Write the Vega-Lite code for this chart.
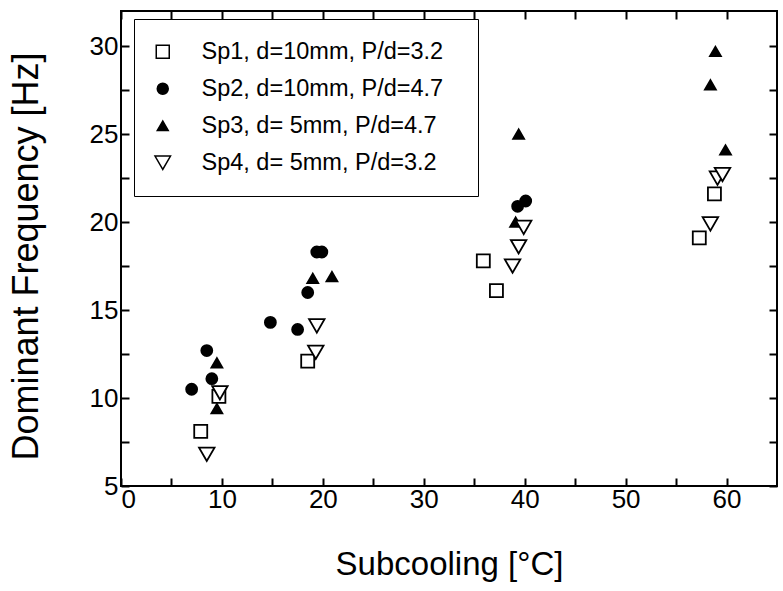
{
  "$schema": "https://vega.github.io/schema/vega-lite/v6.json",
  "width": 656,
  "height": 475,
  "autosize": {"type": "none"},
  "padding": {"left": 121, "top": 11, "right": 6, "bottom": 105},
  "background": "white",
  "config": {
    "view": {"stroke": "black", "strokeWidth": 2},
    "font": "Liberation Sans",
    "axis": {
      "grid": false,
      "domain": false,
      "ticks": true,
      "tickColor": "black",
      "tickWidth": 2,
      "tickSize": -8,
      "labelColor": "black",
      "labelFont": "Liberation Sans",
      "labelFontSize": 26,
      "titleFont": "Liberation Sans",
      "titleFontWeight": "normal",
      "titleColor": "black"
    }
  },
  "data": {
    "values": [
      {"series": "Sp1, d=10mm, P/d=3.2", "subcooling": 7.9, "frequency": 8.1},
      {"series": "Sp1, d=10mm, P/d=3.2", "subcooling": 9.7, "frequency": 10.1},
      {"series": "Sp1, d=10mm, P/d=3.2", "subcooling": 18.5, "frequency": 12.1},
      {"series": "Sp1, d=10mm, P/d=3.2", "subcooling": 35.9, "frequency": 17.8},
      {"series": "Sp1, d=10mm, P/d=3.2", "subcooling": 37.2, "frequency": 16.1},
      {"series": "Sp1, d=10mm, P/d=3.2", "subcooling": 57.3, "frequency": 19.1},
      {"series": "Sp1, d=10mm, P/d=3.2", "subcooling": 58.8, "frequency": 21.6},
      {"series": "Sp2, d=10mm, P/d=4.7", "subcooling": 7.0, "frequency": 10.5},
      {"series": "Sp2, d=10mm, P/d=4.7", "subcooling": 8.5, "frequency": 12.7},
      {"series": "Sp2, d=10mm, P/d=4.7", "subcooling": 9.0, "frequency": 11.1},
      {"series": "Sp2, d=10mm, P/d=4.7", "subcooling": 14.8, "frequency": 14.3},
      {"series": "Sp2, d=10mm, P/d=4.7", "subcooling": 17.5, "frequency": 13.9},
      {"series": "Sp2, d=10mm, P/d=4.7", "subcooling": 18.5, "frequency": 16.0},
      {"series": "Sp2, d=10mm, P/d=4.7", "subcooling": 19.4, "frequency": 18.3},
      {"series": "Sp2, d=10mm, P/d=4.7", "subcooling": 19.9, "frequency": 18.3},
      {"series": "Sp2, d=10mm, P/d=4.7", "subcooling": 39.3, "frequency": 20.9},
      {"series": "Sp2, d=10mm, P/d=4.7", "subcooling": 40.1, "frequency": 21.2},
      {"series": "Sp3, d= 5mm, P/d=4.7", "subcooling": 9.5, "frequency": 12.0},
      {"series": "Sp3, d= 5mm, P/d=4.7", "subcooling": 9.5, "frequency": 9.4},
      {"series": "Sp3, d= 5mm, P/d=4.7", "subcooling": 19.0, "frequency": 16.8},
      {"series": "Sp3, d= 5mm, P/d=4.7", "subcooling": 20.9, "frequency": 16.9},
      {"series": "Sp3, d= 5mm, P/d=4.7", "subcooling": 39.1, "frequency": 20.0},
      {"series": "Sp3, d= 5mm, P/d=4.7", "subcooling": 39.4, "frequency": 25.0},
      {"series": "Sp3, d= 5mm, P/d=4.7", "subcooling": 58.4, "frequency": 27.8},
      {"series": "Sp3, d= 5mm, P/d=4.7", "subcooling": 58.9, "frequency": 29.7},
      {"series": "Sp3, d= 5mm, P/d=4.7", "subcooling": 59.9, "frequency": 24.1},
      {"series": "Sp4, d= 5mm, P/d=3.2", "subcooling": 8.5, "frequency": 6.8},
      {"series": "Sp4, d= 5mm, P/d=3.2", "subcooling": 9.8, "frequency": 10.3},
      {"series": "Sp4, d= 5mm, P/d=3.2", "subcooling": 19.3, "frequency": 12.6},
      {"series": "Sp4, d= 5mm, P/d=3.2", "subcooling": 19.4, "frequency": 14.1},
      {"series": "Sp4, d= 5mm, P/d=3.2", "subcooling": 38.8, "frequency": 17.5},
      {"series": "Sp4, d= 5mm, P/d=3.2", "subcooling": 39.4, "frequency": 18.6},
      {"series": "Sp4, d= 5mm, P/d=3.2", "subcooling": 39.9, "frequency": 19.7},
      {"series": "Sp4, d= 5mm, P/d=3.2", "subcooling": 58.4, "frequency": 19.9},
      {"series": "Sp4, d= 5mm, P/d=3.2", "subcooling": 59.1, "frequency": 22.5},
      {"series": "Sp4, d= 5mm, P/d=3.2", "subcooling": 59.6, "frequency": 22.7}
    ]
  },
  "layer": [
    {
      "mark": {"type": "point", "filled": true, "stroke": "black", "strokeWidth": 1.8, "opacity": 1},
      "encoding": {
        "x": {
          "field": "subcooling", "type": "quantitative",
          "scale": {"domain": [0, 65], "nice": false, "zero": false},
          "axis": {
            "orient": "bottom",
            "values": [0, 5, 10, 15, 20, 25, 30, 35, 40, 45, 50, 55, 60],
            "labelExpr": "datum.value % 10 === 0 ? datum.label : ''",
            "labelPadding": 8,
            "title": "Subcooling [°C]",
            "titleFontSize": 33,
            "titleY": 88,
            "titleBaseline": "alphabetic",
            "encode": {"ticks": {"update": {"y2": {"value": {"expr": "datum.value % 10 === 0 ? -10 : -6"}}}}}
          }
        },
        "y": {
          "field": "frequency", "type": "quantitative",
          "scale": {"domain": [5, 32], "nice": false, "zero": false},
          "axis": {
            "orient": "left",
            "values": [5, 7.5, 10, 12.5, 15, 17.5, 20, 22.5, 25, 27.5, 30],
            "labelExpr": "datum.value % 5 === 0 ? datum.label : ''",
            "labelPadding": 11,
            "title": "Dominant Frequency [Hz]",
            "titleFontSize": 36,
            "titleX": -84,
            "titleY": 245,
            "titleBaseline": "alphabetic",
            "encode": {"ticks": {"update": {"x2": {"value": {"expr": "datum.value % 5 === 0 ? 10 : 6"}}}}}
          }
        },
        "shape": {
          "field": "series", "type": "nominal",
          "scale": {"domain": ["Sp1, d=10mm, P/d=3.2", "Sp2, d=10mm, P/d=4.7", "Sp3, d= 5mm, P/d=4.7", "Sp4, d= 5mm, P/d=3.2"], "range": ["square", "circle", "triangle-up", "triangle-down"]},
          "legend": {"title": null, "orient": "none", "legendX": 13, "legendY": 8, "padding": 21, "strokeColor": "black", "fillColor": "white", "labelFont": "Liberation Sans", "labelFontSize": 23.5, "labelColor": "black", "labelLimit": 500, "labelOffset": 27, "symbolOffset": -4, "rowPadding": 12, "labelExpr": "datum.label + '\u00a0\u00a0\u200b'", "encode": {"symbols": {"update": {"stroke": {"value": "black"}, "strokeWidth": {"value": 1.8}}}}}
        },
        "fill": {
          "field": "series", "type": "nominal",
          "scale": {"domain": ["Sp1, d=10mm, P/d=3.2", "Sp2, d=10mm, P/d=4.7", "Sp3, d= 5mm, P/d=4.7", "Sp4, d= 5mm, P/d=3.2"], "range": ["white", "black", "black", "white"]},
          "legend": {"title": null, "orient": "none", "legendX": 13, "legendY": 8, "padding": 21, "strokeColor": "black", "fillColor": "white", "labelFont": "Liberation Sans", "labelFontSize": 23.5, "labelColor": "black", "labelLimit": 500, "labelOffset": 27, "symbolOffset": -4, "rowPadding": 12, "labelExpr": "datum.label + '\u00a0\u00a0\u200b'", "encode": {"symbols": {"update": {"stroke": {"value": "black"}, "strokeWidth": {"value": 1.8}}}}}
        },
        "size": {
          "field": "series", "type": "nominal",
          "scale": {"type": "ordinal", "domain": ["Sp1, d=10mm, P/d=3.2", "Sp2, d=10mm, P/d=4.7", "Sp3, d= 5mm, P/d=4.7", "Sp4, d= 5mm, P/d=3.2"], "range": [169, 121, 120, 240]},
          "legend": {"title": null, "orient": "none", "legendX": 13, "legendY": 8, "padding": 21, "strokeColor": "black", "fillColor": "white", "labelFont": "Liberation Sans", "labelFontSize": 23.5, "labelColor": "black", "labelLimit": 500, "labelOffset": 27, "symbolOffset": -4, "rowPadding": 12, "labelExpr": "datum.label + '\u00a0\u00a0\u200b'", "encode": {"symbols": {"update": {"stroke": {"value": "black"}, "strokeWidth": {"value": 1.8}}}}}
        }
      }
    },
    {
      "mark": {"type": "point", "opacity": 0},
      "encoding": {
        "x": {
          "field": "subcooling", "type": "quantitative",
          "axis": {
            "orient": "top",
            "values": [0, 5, 10, 15, 20, 25, 30, 35, 40, 45, 50, 55, 60],
            "labels": false,
            "title": null,
            "encode": {"ticks": {"update": {"y2": {"value": {"expr": "datum.value % 10 === 0 ? 10 : 6"}}}}}
          }
        },
        "y": {
          "field": "frequency", "type": "quantitative",
          "axis": {
            "orient": "right",
            "values": [5, 7.5, 10, 12.5, 15, 17.5, 20, 22.5, 25, 27.5, 30],
            "labels": false,
            "title": null,
            "encode": {"ticks": {"update": {"x2": {"value": {"expr": "datum.value % 5 === 0 ? -10 : -6"}}}}}
          }
        }
      }
    }
  ],
  "resolve": {"axis": {"x": "independent", "y": "independent"}}
}
